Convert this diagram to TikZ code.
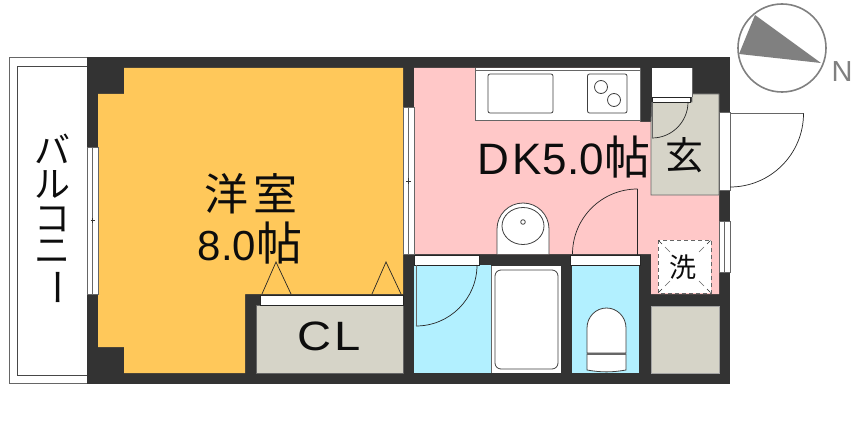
\documentclass[tikz,border=0pt]{standalone}
\usepackage{fontspec}
\setmainfont{Liberation Sans}
\newfontfamily\cjk{Noto Sans CJK JP}
\definecolor{wallc}{HTML}{333333}
\definecolor{edgec}{HTML}{666666}
\definecolor{yellowc}{HTML}{FFC85A}
\definecolor{pinkc}{HTML}{FFC8C8}
\definecolor{bluec}{HTML}{B2F0FF}
\definecolor{grayc}{HTML}{D6D4C8}
\definecolor{compassc}{HTML}{808080}
\tikzset{
  wall/.style={fill=wallc,draw=none},
  fixture/.style={fill=white,draw=black!75,line width=.8pt},
  winline/.style={draw=edgec,line width=.8pt},
  swing/.style={draw=black!85,line width=.7pt},
  strip/.style={fill=white,draw=black!85,line width=.7pt},
  lbl/.style={inner sep=0pt,outer sep=0pt,text=black!95},
}
\newcommand{\jsize}[1]{\fontsize{#1}{#1}\selectfont}
\begin{document}
\begin{tikzpicture}[x=1pt,y=-1pt]
\useasboundingbox (0,0) rectangle (862,433);
\fill[white] (0,0) rectangle (862,433);
% balcony
\draw[edgec,line width=.9pt,fill=white] (87,57) -- (9,57) -- (9,383.5) -- (87,383.5);
\draw[edgec!70!black,line width=.8pt] (87,66) -- (17.5,66) -- (17.5,375) -- (87,375);
% walls
\fill[wall] (87,57) rectangle (730,384);
% rooms
\fill[yellowc] (124,68) -- (403,68) -- (403,294) -- (245,294) -- (245,373) -- (124,373) -- (124,347) -- (98,347) -- (98,94) -- (124,94) -- cycle;
\fill[pinkc] (414,68) -- (640,68) -- (640,122) -- (652,122) -- (652,195) -- (719,195) -- (719,294) -- (651,294) -- (651,254) -- (414,254) -- cycle;
\fill[bluec] (414,265) rectangle (491,373);
\fill[white] (491.5,266) rectangle (561,373);
\draw[edgec] (491.5,266) -- (491.5,373);
\fill[bluec] (572,265) rectangle (639,373);
\filldraw[fill=grayc,draw=edgec,line width=.8pt] (256,305) rectangle (403,373);
\filldraw[fill=grayc,draw=edgec!60,line width=.6pt] (651,306) rectangle (719,373);
\filldraw[fill=grayc,draw=edgec,line width=.9pt] (652,102) -- (692,102) -- (692,94) -- (719,94) -- (719,195) -- (651,195) -- (651,122) -- (652,102);
% door strips
\filldraw[strip] (260,295) rectangle (403,305);
\filldraw[strip] (414,255) rectangle (479,265);
\filldraw[strip] (570.5,255) rectangle (640,265);
% windows
\foreach \xa/\xb/\ya/\yb in {87/98/147/294, 403/414/107/254, 719/730/221/272}{
  \fill[white] (\xa,\ya) rectangle (\xb,\yb);
  \draw[winline] (\xa,\ya) rectangle (\xb,\yb);
  \draw[winline] ({(\xa+\xb)/2},\ya) -- ({(\xa+\xb)/2},\yb);
}
\draw[black!80,line width=.5pt] (90.5,220) -- (95,220) (92.5,218) -- (92.5,223);
\draw[black!80,line width=.5pt] (406,181) -- (411,181) (408.5,178) -- (408.5,184);
% entrance door opening
\fill[white] (719,112) rectangle (730,190);
\draw[winline] (719,112) rectangle (730,190);
% entrance door
\draw[edgec,line width=.9pt] (730,113.5) -- (803.5,113.5);
\draw[swing] (803.5,113.5) arc[start angle=0,end angle=90,radius=73.5];
% closet triangles
\draw[swing] (262,294) -- (276,262) -- (291,294);
\draw[swing] (372,294) -- (386,262) -- (401,294);
% interior doors
\draw[swing] (477,265) arc[start angle=0,end angle=90,radius=61];
\draw[edgec,line width=.7pt] (416,265) -- (416,326);
\draw[swing] (572.5,254) arc[start angle=180,end angle=270,radius=65];
\draw[swing] (637.5,189) -- (637.5,255);
% shoe closet
\fill[white] (652,68) rectangle (692,97);
\draw[edgec,line width=.8pt] (692,68) -- (692,97);
\filldraw[strip] (652,97) rectangle (690,102);
\draw[swing] (688,102) arc[start angle=0,end angle=90,radius=36];
\draw[edgec,line width=.7pt] (652,102) -- (652,138);
% kitchen
\filldraw[fill=white,draw=edgec,line width=.9pt] (475,68) -- (475,120) -- (640,120) -- (640,68);
\draw[edgec,line width=.7pt] (475,70.5) -- (640,70.5);
\draw[fixture,rounded corners=2pt] (488,74) rectangle (553,113);
\draw[fixture,rounded corners=2pt] (587.5,74) rectangle (627,113);
\draw[fixture] (601,87) circle[radius=6.5];
\draw[fixture] (614,100) circle[radius=6.5];
% wash basin
\filldraw[fixture] (497,254) -- (497,229) arc[start angle=180,end angle=360,x radius=26,y radius=26] -- (549,254);
\draw[fixture] (523,226) ellipse[x radius=21,y radius=18.5];
\draw[fixture] (523,222) circle[radius=2.3];
% bath tub
\draw[fixture,rounded corners=6pt] (495,270) rectangle (558,369);
% toilet
\filldraw[fixture] (587,353) -- (587,328) arc[start angle=180,end angle=360,x radius=19.5,y radius=20] -- (626,353) -- cycle;
\filldraw[fixture] (587,354) -- (626,354) -- (626,370) .. controls (612,372.5) and (601,372.5) .. (587,370) -- cycle;
\fill[edgec] (587,352.5) rectangle (626,354.5);
% washing machine pan
\fill[white] (658,240) rectangle (711,293);
\draw[edgec,line width=1pt,dash pattern=on 4pt off 3pt] (658,240) rectangle (711,293);
\draw[edgec,line width=.6pt] (665,247) -- (670,252) (704,247) -- (699,252) (665,286) -- (670,281) (704,286) -- (699,281);
\draw[black!85,line width=.5pt] (658.5,240.5) -- (662,244) (710.5,240.5) -- (707,244) (658.5,292.5) -- (662,289) (710.5,292.5) -- (707,289);
% compass
\draw[compassc,line width=1.6pt,fill=white] (782,48) circle[radius=44];
\fill[compassc] (755,15) -- (739,54) -- (821,63) -- cycle;
\node[lbl,text=compassc] (north) at (842,72) {\jsize{29}N};
% labels
\node[lbl,font=\cjk\jsize{36}] (ba) at (52,149) {バ};
\node[lbl,font=\cjk\jsize{36}] (ru) at (52,184) {ル};
\node[lbl,font=\cjk\jsize{36}] (ko) at (52,219) {コ};
\node[lbl,font=\cjk\jsize{36}] (ni) at (52,252) {ニ};
\node[lbl,font=\cjk\jsize{38},rotate=-90] (bar) at (52,287) {ー};
\node[lbl] (western) at (251,194) {\cjk\jsize{44}洋\kern6pt 室};
\node[lbl] (westernsize) at (250,243) {\jsize{42}8.0\cjk\jsize{46}帖};
\node[lbl] (cl) at (329,336) {\scalebox{1.15}[1]{\jsize{41}C\kern2pt L}};
\node[lbl] (dk) at (564,157) {\jsize{44}D\kern3pt K\kern1pt 5.0\cjk\jsize{46}帖};
\node[lbl] (genkan) at (684,155) {\cjk\jsize{38}玄};
\node[lbl] (wash) at (683,267) {\cjk\jsize{27}洗};
\end{tikzpicture}
\end{document}
